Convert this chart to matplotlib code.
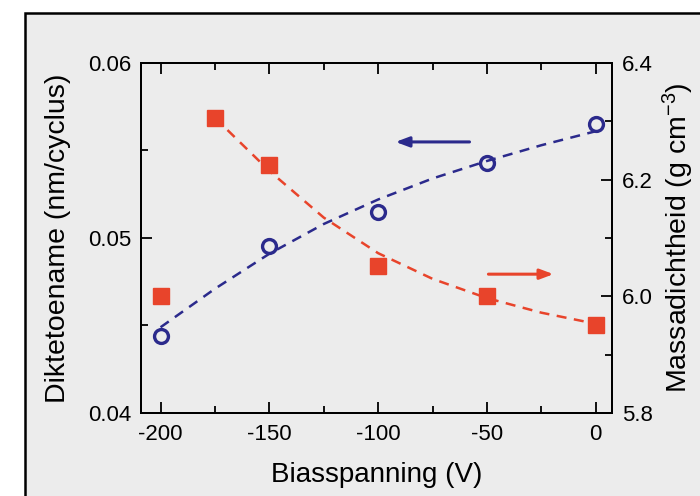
import numpy as np
import matplotlib
matplotlib.use('Agg')
import matplotlib.pyplot as plt
from matplotlib.patches import Rectangle
from matplotlib.ticker import MultipleLocator, FormatStrFormatter

plt.rcParams['font.family'] = ['Liberation Sans', 'DejaVu Sans']
plt.rcParams['axes.unicode_minus'] = False
plt.rcParams['mathtext.fontset'] = 'custom'
plt.rcParams['mathtext.rm'] = 'Liberation Sans'
plt.rcParams['mathtext.it'] = 'Liberation Sans:italic'
plt.rcParams['mathtext.default'] = 'rm'

# measured points
bias = [-200, -150, -100, -50, 0]
groei = [0.0444, 0.04954, 0.0515, 0.0543, 0.0565]          # nm/cyclus (left)
bias_rho = [-200, -175, -150, -100, -50, 0]
dichtheid = [6.00, 6.305, 6.225, 6.052, 6.00, 5.951]       # g cm^-3 (right)

# dashed guide curves
fit_bias = [-200, -175, -150, -125, -100, -75, -50, -25, 0]
fit_groei = [0.0449, 0.0471, 0.0491, 0.0508, 0.0522, 0.0534, 0.0544, 0.0553, 0.0561]
fit_bias_rho = [-175, -150, -125, -100, -75, -50, -25, 0]
fit_dichtheid = [6.306, 6.215, 6.135, 6.074, 6.030, 5.997, 5.972, 5.953]

blauw = '#2b2a8c'
rood = '#e8442b'
grijs = '#ececec'

fig = plt.figure(figsize=(7, 4.96), dpi=100, facecolor='white')
# grey panel with black frame (runs off the right and bottom edge)
fig.patches.append(Rectangle((25/700, -0.05), 1.0, 1 - 12.7/496 + 0.05,
                             transform=fig.transFigure, facecolor=grijs,
                             edgecolor='black', linewidth=1.8, zorder=-5))

ax = fig.add_axes([141/700, 1 - 413/496, 471/700, 350/496])
ax.set_facecolor(grijs)
ax2 = ax.twinx()

ax.plot(fit_bias, fit_groei, '--', color=blauw, lw=1.8, dashes=(4, 3))
ax.plot(bias, groei, 'o', mfc='none', mec=blauw, mew=2.4, ms=10)
ax2.plot(fit_bias_rho, fit_dichtheid, '--', color=rood, lw=1.8, dashes=(4, 3))
ax2.plot(bias_rho, dichtheid, 's', color=rood, ms=11)

ax.annotate('', xy=(-92, 0.05549), xytext=(-58, 0.05549),
            arrowprops=dict(arrowstyle='-|>,head_length=0.8,head_width=0.3',
                            color=blauw, lw=2.2, shrinkA=0, shrinkB=0))
ax2.annotate('', xy=(-19.4, 6.038), xytext=(-49.3, 6.038),
             arrowprops=dict(arrowstyle='-|>,head_length=0.8,head_width=0.3',
                             color=rood, lw=2.2, shrinkA=0, shrinkB=0))

ax.set_xlim(-209, 7.5)
ax.set_ylim(0.04, 0.06)
ax2.set_ylim(5.8, 6.4)

ax.xaxis.set_major_locator(MultipleLocator(50))
ax.xaxis.set_minor_locator(MultipleLocator(25))
ax.yaxis.set_major_locator(MultipleLocator(0.01))
ax.yaxis.set_minor_locator(MultipleLocator(0.005))
ax2.yaxis.set_major_locator(MultipleLocator(0.2))
ax2.yaxis.set_minor_locator(MultipleLocator(0.1))
ax.yaxis.set_major_formatter(FormatStrFormatter('%.2f'))
ax2.yaxis.set_major_formatter(FormatStrFormatter('%.1f'))

ax.tick_params(axis='x', which='both', direction='in', top=True, labelsize=16, pad=8)
ax.tick_params(axis='y', which='both', direction='in', right=False, labelsize=16, pad=7)
ax.tick_params(which='major', length=8, width=1.3)
ax.tick_params(which='minor', length=5, width=1.3)
ax2.tick_params(which='both', direction='in', labelsize=16, pad=7)
ax2.tick_params(which='major', length=8, width=1.3)
ax2.tick_params(which='minor', length=5, width=1.3)
for a in (ax, ax2):
    for s in a.spines.values():
        s.set_linewidth(1.4)

ax.set_xlabel('Biasspanning (V)', fontsize=20, labelpad=12)
ax.set_ylabel('Diktetoename (nm/cyclus)', fontsize=20.5, labelpad=12)
ax2.set_ylabel('Massadichtheid (g cm$^{-3}$)', fontsize=20.5, labelpad=6)

fig.savefig('out.png', dpi=100, facecolor='white')
